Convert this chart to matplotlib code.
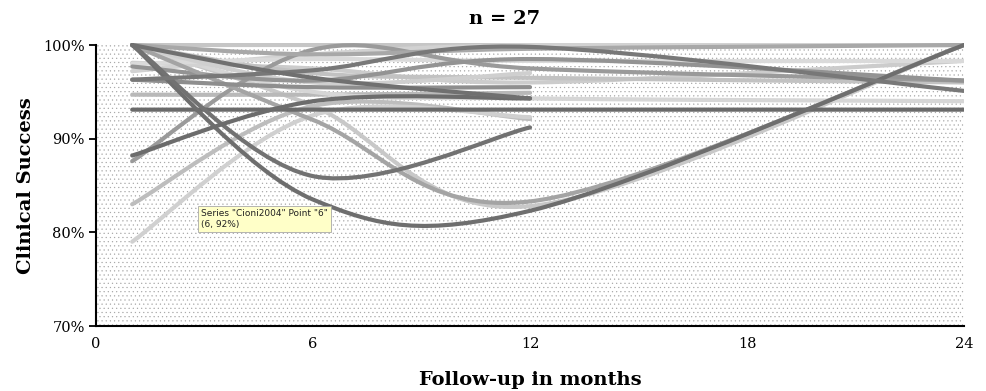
"""Clinical success vs follow-up: smoothed study curves, Excel style."""
import matplotlib

matplotlib.use("Agg")

import matplotlib.pyplot as plt
import numpy as np
from matplotlib.patches import PathPatch, Rectangle
from matplotlib.path import Path
from matplotlib.ticker import FuncFormatter

# follow-up points (months) shared by every study
months = [1, 6, 12, 24]

# clinical success (%) per study, None where the study has no value
dark_series = [
    [93.1, 93.1, 93.1, 93.1],
    [100, 83.5, 82.3, 100],
    [100, 86.0, 91.2, None],
    [88.2, 94.0, 94.3, None],
    [96.3, 97.3, 99.8, 95.1],
    [100, 96.5, 94.3, None],
]
medium_series = [
    [87.6, 99.5, 97.5, 96.2],
    [97.7, 96.2, 98.5, 96.2],
    [100, 92.0, 83.3, 100],
    [96.3, 95.5, 95.5, None],
    [100, 99.0, 99.6, 100],
]
light_series = [
    [100, 93.5, 82.8, 100],
    [83.0, 93.5, 92.1, None],
    [79.0, 92.5, 92.3, None],
    [94.7, 94.7, 94.9, None],
    [100, 100, 100, 100],
    [98.1, 97.5, 96.0, 98.3],
    [100, 95.0, 94.3, 94.0],
    [100, 97.0, 96.5, 96.0],
    [97.2, 99.0, 100, 100],
    [98.0, 98.5, 98.3, 98.3],
    [100, 96.0, 97.0, None],
]

dark_colors = ["#6a6a6a", "#6e6e6e", "#727272", "#6c6c6c", "#787878", "#707070"]
medium_colors = ["#9a9a9a", "#939393", "#a4a4a4", "#8e8e8e", "#a8a8a8"]
light_colors = ["#c8c8c8", "#bdbdbd", "#d0d0d0", "#b9b9b9", "#c6c6c6",
                "#cccccc", "#d6d6d6", "#c2c2c2", "#d2d2d2", "#dadada", "#cfcfcf"]

y_ticks = [70, 80, 90, 100]
x_ticks = [0, 6, 12, 18, 24]


def smooth_path(xs, ys):
    """Catmull-Rom bezier through the points, like Excel's smoothed line."""
    pts = [(x, y) for x, y in zip(xs, ys) if y is not None]
    p = np.asarray(pts, dtype=float)
    verts = [tuple(p[0])]
    codes = [Path.MOVETO]
    n = len(p)
    for i in range(n - 1):
        prev = p[i - 1] if i > 0 else p[i]
        nxt = p[i + 2] if i + 2 < n else p[i + 1]
        c1 = p[i] + (p[i + 1] - prev) / 6.0
        c2 = p[i + 1] - (nxt - p[i]) / 6.0
        verts += [tuple(c1), tuple(c2), tuple(p[i + 1])]
        codes += [Path.CURVE4] * 3
    return Path(verts, codes)


plt.rcParams["font.family"] = ["DejaVu Serif"]
plt.rcParams["hatch.linewidth"] = 0.35

fig = plt.figure(figsize=(9.87, 3.91), dpi=100)
ax = fig.add_axes([0.0973, 0.1662, 0.8794, 0.7187])
ax.set_xlim(0, 24)
ax.set_ylim(70, 100)

# dotted plot area
ax.patch.set_visible(False)
bg = Rectangle((0, 0), 1, 1, transform=ax.transAxes, facecolor="white",
               edgecolor="#a6a6a6", hatch="....", linewidth=0, zorder=0)
ax.add_patch(bg)

clip = Rectangle((0, 0), 1, 1.008, transform=ax.transAxes)

groups = [(light_series, light_colors), (medium_series, medium_colors),
          (dark_series, dark_colors)]
for series_list, colors in groups:
    for ys, col in zip(series_list, colors):
        patch = PathPatch(smooth_path(months, ys), fill=False, edgecolor=col,
                          linewidth=3.0, capstyle="round", joinstyle="round",
                          zorder=2)
        ax.add_patch(patch)
        patch.set_clip_path(clip)

ax.set_yticks(y_ticks)
ax.yaxis.set_major_formatter(FuncFormatter(lambda v, _: f"{v:.0f}%"))
ax.set_xticks(x_ticks)
ax.tick_params(axis="y", direction="out", length=5, width=1.3, labelsize=10.5,
               pad=3)
ax.tick_params(axis="x", length=0, labelsize=10.5, pad=8)
for side in ("top", "right"):
    ax.spines[side].set_visible(False)
for side in ("left", "bottom"):
    ax.spines[side].set_linewidth(1.5)
    ax.spines[side].set_zorder(3)

fig.text(0.5370, 1 - 385 / 391, "Follow-up in months", ha="center",
         va="baseline", fontsize=14, fontweight="bold")
fig.text(0.026, 1 - 186 / 391, "Clinical Success", ha="center", va="center",
         rotation=90, fontsize=14, fontweight="bold")
fig.text(0.5117, 1 - 19 / 391, "n = 27", ha="center", va="center",
         fontsize=14, fontweight="bold")

# hover tooltip left in the screenshot
fig.text(0.2035, 1 - 219 / 391, 'Series "Cioni2004" Point "6"\n(6, 92%)',
         ha="left", va="center", fontsize=6.5, family=["DejaVu Sans"],
         linespacing=1.15, color="#222222",
         bbox=dict(boxstyle="square,pad=0.35", facecolor="#ffffc8",
                   edgecolor="#a8a8a8", linewidth=0.6))

fig.savefig("out.png", dpi=100)
